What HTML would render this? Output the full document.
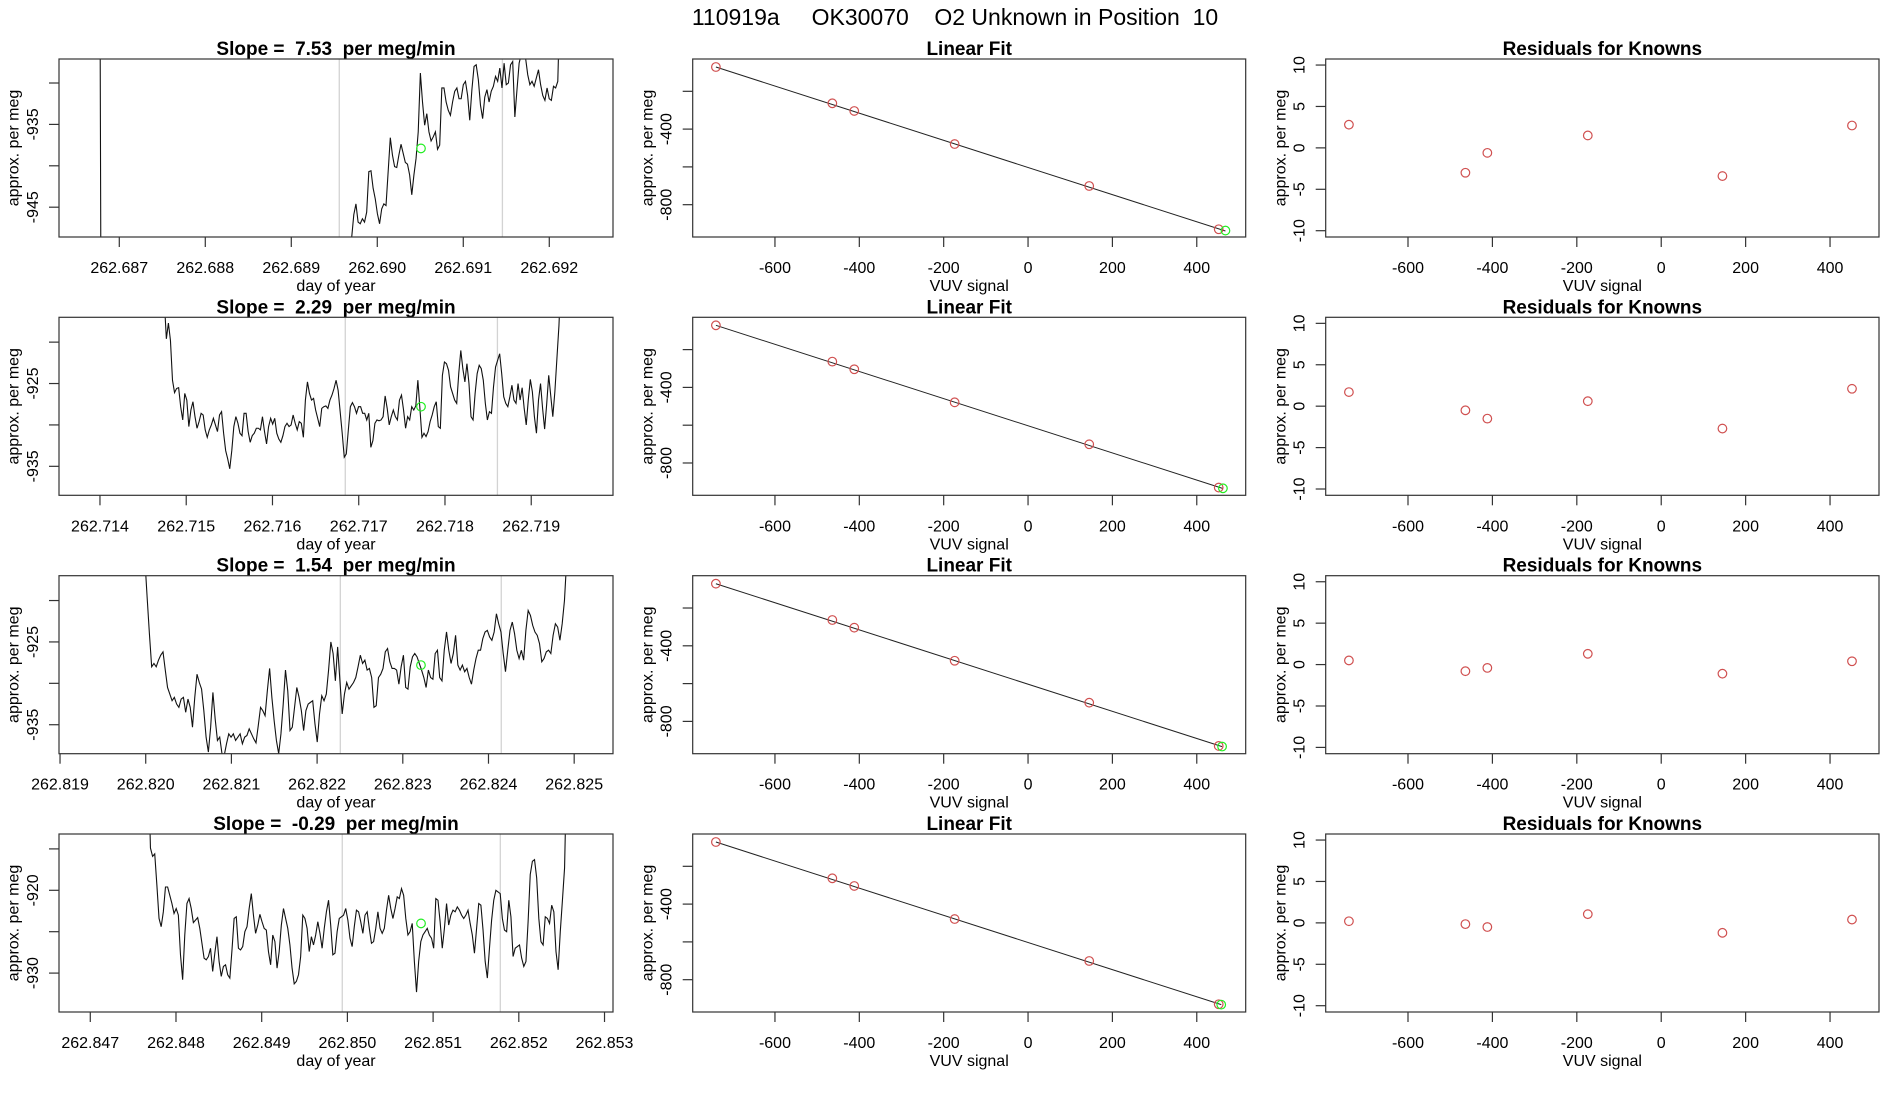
<!DOCTYPE html>
<html><head><meta charset="utf-8"><title>110919a OK30070 O2 Unknown in Position 10</title>
<style>
html,body{margin:0;padding:0;background:#fff;}
svg{display:block;font-family:"Liberation Sans",Arial,sans-serif;}
</style></head>
<body>
<svg id="fig" width="1900" height="1100" viewBox="0 0 1900 1100">
<text x="955" y="25" text-anchor="middle" font-size="23" style="white-space:pre">110919a     OK30070    O2 Unknown in Position  10</text>
</svg>
<script>
// ---------- DATA ----------
const tsSlopes = ["7.53", "2.29", "1.54", "-0.29"];
const tsXlim = [[262.686299, 262.692741],[262.713525, 262.719948],[262.818988, 262.825453],[262.846635, 262.853099]];
const tsYlim = [[-948.6, -927.1],[-938.5, -917.0],[-938.5, -917.0],[-934.7, -913.2]];
const tsXTicks = [
 ["262.687","262.688","262.689","262.690","262.691","262.692"],
 ["262.714","262.715","262.716","262.717","262.718","262.719"],
 ["262.819","262.820","262.821","262.822","262.823","262.824","262.825"],
 ["262.847","262.848","262.849","262.850","262.851","262.852","262.853"]];
const tsYTicks = [[-930,-935,-940,-945],[-920,-925,-930,-935],[-920,-925,-930,-935],[-915,-920,-925,-930]];
const tsYLabels = [[-935,-945],[-925,-935],[-925,-935],[-920,-930]];
const tsGray = [[262.689558, 262.691455],[262.716844, 262.718608],[262.822271, 262.824149],[262.849940, 262.851784]];
const tsGreenT = [262.690508, 262.717722, 262.823212, 262.850859];
const tsGreenV = [-937.9, -927.8, -927.8, -924.0];
const tsStart = [262.689702, 262.714746, 262.819990, 262.847677];
const tsEnd = [262.692124, 262.719345, 262.824913, 262.852559];
const tsPreT = [[262.686770, 262.686800, 262.689680],[],[],[]];
const tsPreV = [[-900, -1000, -1000],[],[],[]];
const ts1 = [-948.7,-945.9,-944.6,-946.8,-947.0,-946.4,-946.8,-945.6,-940.7,-940.6,-942.7,-944.0,-945.8,-947.0,-945.2,-944.6,-944.8,-940.7,-936.6,-938.7,-940.1,-940.2,-938.7,-937.4,-938.5,-939.6,-939.8,-941.1,-943.5,-941.1,-939.1,-935.9,-928.8,-932.3,-935.1,-933.7,-935.9,-937.0,-936.5,-935.9,-938.0,-937.5,-930.6,-930.6,-932.3,-933.3,-933.9,-932.3,-931.0,-930.6,-931.9,-931.9,-930.2,-929.8,-931.5,-934.5,-930.8,-928.0,-927.8,-929.6,-932.7,-934.3,-931.7,-930.8,-932.3,-931.0,-930.4,-929.2,-929.8,-928.2,-930.6,-927.6,-930.2,-930.0,-927.8,-927.4,-934.1,-930.8,-927.6,-926.5,-925.8,-927.0,-929.0,-930.2,-929.8,-930.4,-929.4,-928.4,-930.2,-931.5,-932.1,-930.6,-931.9,-932.1,-930.4,-930.6,-929.8,-920.0];
const ts2 = [-915.0,-919.6,-917.7,-919.8,-924.6,-926.1,-925.6,-925.5,-927.8,-929.4,-926.2,-927.0,-930.2,-928.2,-927.2,-929.0,-930.4,-929.6,-928.6,-928.8,-930.6,-931.5,-930.6,-930.0,-929.2,-930.0,-930.8,-928.8,-928.4,-931.0,-933.1,-934.1,-935.3,-933.1,-930.2,-929.0,-929.8,-931.0,-931.3,-928.6,-928.6,-930.8,-932.1,-931.3,-931.0,-930.4,-930.4,-930.6,-929.0,-930.8,-932.3,-930.2,-929.2,-929.9,-929.2,-931.0,-931.7,-932.1,-931.3,-930.2,-929.8,-930.2,-930.0,-928.8,-929.8,-930.6,-929.6,-929.8,-931.5,-927.0,-924.8,-926.2,-927.0,-926.8,-928.2,-929.2,-930.2,-928.0,-927.8,-927.7,-928.0,-927.0,-926.4,-925.6,-924.6,-925.8,-928.4,-931.0,-933.9,-933.5,-930.6,-927.8,-927.3,-927.8,-928.6,-927.8,-927.8,-928.6,-928.6,-929.4,-928.6,-932.7,-931.9,-929.8,-929.4,-929.5,-929.4,-929.0,-926.5,-928.0,-930.0,-929.0,-928.2,-929.0,-929.4,-927.0,-926.4,-928.2,-930.4,-929.0,-929.4,-927.8,-928.2,-927.7,-924.6,-928.0,-931.5,-931.0,-931.4,-930.8,-929.6,-928.8,-927.8,-927.2,-930.2,-930.4,-924.0,-922.4,-922.6,-923.4,-925.4,-926.2,-927.0,-927.4,-923.8,-921.0,-923.2,-924.8,-922.6,-925.0,-929.0,-929.4,-926.2,-923.8,-922.8,-923.2,-924.6,-927.4,-929.4,-928.4,-928.6,-925.4,-923.0,-922.2,-921.4,-923.8,-926.6,-927.4,-927.8,-926.6,-925.2,-927.0,-927.4,-925.0,-927.0,-925.5,-928.0,-930.0,-927.0,-924.5,-926.0,-929.0,-931.0,-927.0,-925.0,-928.0,-930.5,-927.5,-924.0,-926.5,-929.0,-926.0,-922.0,-918.0,-912.0];
const ts3 = [-915.0,-919.6,-924.0,-928.0,-927.6,-928.0,-927.2,-926.6,-926.2,-928.4,-930.5,-931.3,-932.1,-931.7,-932.5,-932.9,-931.9,-931.7,-933.5,-931.9,-932.9,-935.3,-931.7,-928.9,-929.9,-930.7,-933.3,-936.5,-938.3,-935.3,-931.1,-934.3,-936.9,-936.5,-938.5,-938.7,-937.3,-936.1,-936.5,-936.1,-936.9,-936.5,-936.1,-937.3,-936.5,-936.3,-935.5,-936.1,-936.7,-937.2,-935.1,-932.9,-933.3,-933.9,-930.9,-928.2,-931.7,-934.5,-936.9,-938.5,-936.1,-932.5,-928.4,-930.9,-935.7,-935.3,-932.9,-930.5,-931.7,-933.3,-935.7,-933.3,-932.5,-932.3,-932.1,-934.9,-937.1,-933.7,-931.5,-932.1,-931.3,-928.4,-925.0,-926.4,-929.7,-925.6,-929.7,-933.7,-931.3,-929.9,-930.7,-930.3,-929.9,-929.3,-928.0,-926.6,-927.6,-927.2,-928.4,-928.2,-929.3,-932.9,-932.7,-929.3,-928.9,-928.2,-926.2,-925.8,-927.4,-928.2,-928.2,-928.4,-930.1,-928.0,-926.6,-930.5,-930.7,-928.0,-926.8,-926.4,-926.8,-927.6,-928.4,-929.3,-930.5,-928.4,-929.3,-929.5,-926.4,-926.0,-929.3,-929.7,-926.0,-923.8,-926.0,-927.6,-926.4,-924.2,-927.8,-928.4,-927.8,-928.6,-928.2,-929.3,-930.1,-928.4,-927.0,-926.0,-926.0,-924.6,-923.8,-923.6,-924.4,-924.8,-923.8,-921.6,-922.8,-923.8,-926.4,-928.6,-926.0,-923.6,-922.6,-924.0,-926.0,-927.0,-926.0,-927.2,-923.6,-921.2,-921.8,-923.0,-923.8,-924.2,-925.2,-927.4,-927.0,-926.2,-926.0,-926.4,-924.2,-922.8,-923.2,-924.8,-922.8,-920.0,-915.0];
const ts4 = [-905.0,-914.9,-915.9,-915.6,-919.4,-923.4,-924.4,-922.6,-919.6,-919.6,-920.6,-921.6,-922.8,-922.2,-923.0,-927.8,-930.8,-925.4,-921.6,-921.0,-922.2,-923.9,-923.6,-923.3,-924.6,-926.4,-928.2,-928.4,-928.0,-927.0,-929.8,-927.6,-925.6,-928.6,-930.4,-929.2,-929.0,-930.2,-930.6,-927.2,-923.4,-923.2,-927.0,-927.2,-926.8,-925.0,-924.4,-922.2,-920.4,-923.0,-925.2,-924.2,-922.9,-923.8,-924.6,-924.8,-927.4,-929.0,-925.4,-926.2,-929.4,-927.4,-924.2,-922.2,-923.4,-924.6,-926.6,-929.4,-931.3,-931.0,-930.2,-928.0,-923.0,-923.4,-924.6,-927.4,-925.6,-926.6,-925.4,-923.8,-925.2,-927.0,-924.6,-922.6,-921.2,-924.2,-927.8,-927.6,-925.0,-923.4,-923.2,-923.0,-922.2,-923.6,-925.8,-926.8,-924.4,-922.4,-922.6,-923.8,-925.2,-923.0,-922.6,-924.6,-926.4,-926.2,-924.6,-922.6,-924.6,-925.2,-924.6,-922.4,-920.6,-922.2,-923.4,-922.2,-920.8,-921.0,-919.8,-920.6,-923.4,-925.4,-925.0,-924.0,-928.6,-932.3,-928.6,-926.2,-925.4,-925.0,-924.6,-925.4,-925.8,-927.0,-921.0,-921.2,-923.8,-927.0,-924.6,-921.6,-924.2,-923.0,-922.4,-922.6,-922.0,-922.4,-923.0,-923.4,-923.0,-922.4,-924.0,-925.4,-927.6,-924.6,-921.6,-921.8,-924.8,-928.6,-930.6,-927.0,-923.6,-921.2,-920.0,-920.2,-920.4,-923.4,-924.8,-925.0,-921.2,-923.2,-928.0,-927.0,-926.8,-926.6,-928.2,-929.2,-928.6,-923.8,-918.1,-916.5,-916.3,-918.5,-923.4,-926.2,-926.6,-923.2,-923.4,-924.0,-921.8,-922.6,-927.4,-929.6,-925.0,-921.2,-917.3,-905.0];
const tsValues = [ts1, ts2, ts3, ts4];

const fitXlim = [-795, 516];
const fitYlim = [-971, -29];
const fitXTicks = [-600, -400, -200, 0, 200, 400];
const fitYTicks = [-200, -400, -600, -800];
const fitYLabels = [-400, -800];
const knownX = [-740, -464, -412, -174, 145, 452];
const knownY = [-71.4, -263.5, -304, -479, -701, -930];
const fitIntercept = [-603.1, -603.1, -603.1, -603.1];
const fitSlope = [-0.7185, -0.7185, -0.7185, -0.7185];
const unkX = [468, 462, 460, 458];
const unkY = [-937, -934, -933, -932];

const resYlim = [-10.76, 10.73];
const resYTicks = [10, 5, 0, -5, -10];
const resid = [
 [2.8, -3.0, -0.6, 1.5, -3.4, 2.7],
 [1.7, -0.5, -1.5, 0.6, -2.7, 2.1],
 [0.5, -0.8, -0.4, 1.3, -1.1, 0.4],
 [0.2, -0.15, -0.5, 1.05, -1.2, 0.4]];

// ---------- LAYOUT ----------
const NS = "http://www.w3.org/2000/svg";
const svg = document.getElementById('fig');
const colL = [59, 692.7, 1325.7], colR = [613, 1245.7, 1879];
const rowT = [59, 317.3, 575.7, 834], PH = 178;
function mk(tag, attrs, parent) {
  const e = document.createElementNS(NS, tag);
  for (const k in attrs) e.setAttribute(k, attrs[k]);
  (parent || svg).appendChild(e);
  return e;
}
function scale(d0, d1, p0, p1) { return v => p0 + (v - d0) / (d1 - d0) * (p1 - p0); }

function frame(g, L, T, R, B, title, xlab, ylab, name) {
  const t = mk('text', {x: (L + R) / 2, y: T - 4, 'text-anchor': 'middle', 'font-size': 19, 'font-weight': 'bold', style: 'white-space:pre'}, g);
  t.textContent = title;
  
  
  const xl = mk('text', {x: (L + R) / 2, y: B + 54, 'text-anchor': 'middle', 'font-size': 16}, g);
  xl.textContent = xlab;
  
  
  const cy = (T + B) / 2, cx = L - 46;
  const yl = mk('text', {x: cx, y: cy, 'text-anchor': 'middle', 'font-size': 16, transform: 'rotate(-90 ' + cx + ' ' + cy + ')', dy: '0.35em'}, g);
  yl.textContent = ylab;
  
  
}
function box(g, L, T, R, B, name) {
  const r = mk('rect', {x: L, y: T, width: R - L, height: B - T, fill: 'none', stroke: '#333', 'stroke-width': 1.2}, g);
  
  
}
function xTick(g, px, B, label, name) {
  mk('line', {x1: px, x2: px, y1: B, y2: B + 10, stroke: '#333', 'stroke-width': 1.2}, g);
  const t = mk('text', {x: px, y: B + 36, 'text-anchor': 'middle', 'font-size': 16}, g);
  t.textContent = label;
  
  
}
function yTick(g, py, L, label, name) {
  mk('line', {x1: L - 10, x2: L, y1: py, y2: py, stroke: '#333', 'stroke-width': 1.2}, g);
  if (label !== null) {
    const x = L - 21;
    const t = mk('text', {x: x, y: py, 'text-anchor': 'middle', 'font-size': 16, transform: 'rotate(-90 ' + x + ' ' + py + ')'}, g);
    t.textContent = label;
    
    
  }
}
function circle(g, cx, cy, color, name) {
  const c = mk('circle', {cx: cx, cy: cy, r: 4.3, fill: 'none', stroke: color, 'stroke-width': 1.2}, g);
  
  
}

for (let r = 0; r < 4; r++) {
  const T = rowT[r], B = T + PH;
  // ---- time series ----
  {
    const L = colL[0], R = colR[0];
    const g = mk('g', {});
    
    
    const xs = scale(tsXlim[r][0], tsXlim[r][1], L, R);
    const ys = scale(tsYlim[r][0], tsYlim[r][1], B, T);
    frame(g, L, T, R, B, 'Slope =  ' + tsSlopes[r] + '  per meg/min', 'day of year', 'approx. per meg', 'time-series-' + (r + 1));
    const clipId = 'clip' + r;
    const cp = mk('clipPath', {id: clipId}, g);
    mk('rect', {x: L, y: T, width: R - L, height: PH}, cp);
    tsGray[r].forEach(tv => {
      const l = mk('line', {x1: xs(tv), x2: xs(tv), y1: T, y2: B, stroke: '#d3d3d3', 'stroke-width': 1.3}, g);
      
      
    });
    const vals = tsValues[r];
    const n = vals.length;
    const dt = (tsEnd[r] - tsStart[r]) / (n - 1);
    let pts = [];
    tsPreT[r].forEach((tv, i) => pts.push(xs(tv).toFixed(2) + ',' + ys(tsPreV[r][i]).toFixed(2)));
    vals.forEach((v, i) => pts.push(xs(tsStart[r] + i * dt).toFixed(2) + ',' + ys(v).toFixed(2)));
    const pl = mk('polyline', {points: pts.join(' '), fill: 'none', stroke: '#111', 'stroke-width': 1.1, 'clip-path': 'url(#' + clipId + ')'}, g);
    
    
    circle(g, xs(tsGreenT[r]), ys(tsGreenV[r]), '#22ee22', 'unknown-mean-point');
    tsXTicks[r].forEach(lbl => xTick(g, xs(parseFloat(lbl)), B, lbl, 'time-series'));
    tsYTicks[r].forEach(v => yTick(g, ys(v), L, tsYLabels[r].includes(v) ? String(v) : null, 'time-series'));
    box(g, L, T, R, B, 'time-series-' + (r + 1));
  }
  // ---- linear fit ----
  {
    const L = colL[1], R = colR[1];
    const g = mk('g', {});
    
    
    const xs = scale(fitXlim[0], fitXlim[1], L, R);
    const ys = scale(fitYlim[0], fitYlim[1], B, T);
    frame(g, L, T, R, B, 'Linear Fit', 'VUV signal', 'approx. per meg', 'linear-fit-' + (r + 1));
    const x0 = Math.min(...knownX, unkX[r]), x1 = Math.max(...knownX, unkX[r]);
    const fl = mk('line', {x1: xs(x0), y1: ys(fitIntercept[r] + fitSlope[r] * x0), x2: xs(x1), y2: ys(fitIntercept[r] + fitSlope[r] * x1), stroke: '#222', 'stroke-width': 1}, g);
    
    
    knownX.forEach((kx, i) => circle(g, xs(kx), ys(knownY[i]), '#d05050', 'known-standard-point'));
    circle(g, xs(unkX[r]), ys(unkY[r]), '#22ee22', 'unknown-point');
    fitXTicks.forEach(v => xTick(g, xs(v), B, String(v), 'linear-fit'));
    fitYTicks.forEach(v => yTick(g, ys(v), L, fitYLabels.includes(v) ? String(v) : null, 'linear-fit'));
    box(g, L, T, R, B, 'linear-fit-' + (r + 1));
  }
  // ---- residuals ----
  {
    const L = colL[2], R = colR[2];
    const g = mk('g', {});
    
    
    const xs = scale(fitXlim[0], fitXlim[1], L, R);
    const ys = scale(resYlim[0], resYlim[1], B, T);
    frame(g, L, T, R, B, 'Residuals for Knowns', 'VUV signal', 'approx. per meg', 'residuals-' + (r + 1));
    knownX.forEach((kx, i) => circle(g, xs(kx), ys(resid[r][i]), '#d05050', 'residual-point'));
    fitXTicks.forEach(v => xTick(g, xs(v), B, String(v), 'residuals'));
    resYTicks.forEach(v => yTick(g, ys(v), L, String(v), 'residuals'));
    box(g, L, T, R, B, 'residuals-' + (r + 1));
  }
}
</script>
</body></html>
